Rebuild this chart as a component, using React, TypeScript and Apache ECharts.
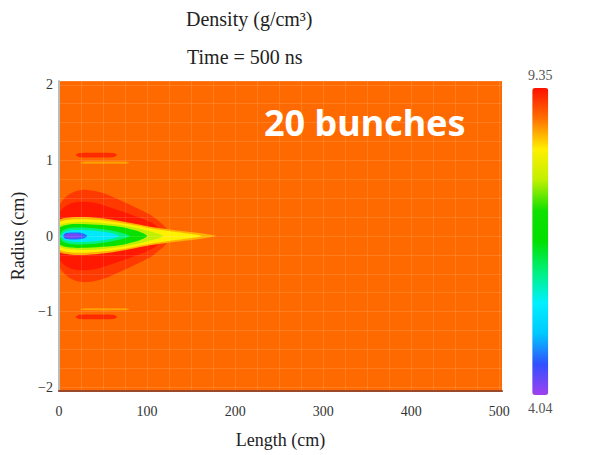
import React, { useEffect, useRef } from "react";
import * as echarts from "echarts";

const SERIF = '"Liberation Serif", "Times New Roman", serif';

// Axis ticks / ranges
const xTickValues = [0, 100, 200, 300, 400, 500];
const yTickValues = [-2, -1, 0, 1, 2];
const lengthMax = 503;
const radiusMax = 2.05;

// Colour scale
const densityMin = 4.04;
const densityMax = 9.35;
const densityColors = [
  "#a040f0", "#3050ff", "#00c8ff", "#00f0ff", "#00f080", "#00e000",
  "#10e000", "#c0f000", "#fff000", "#ff7000", "#ff1000",
];

// Ambient density filling the channel
const ambientDensity = 8.85;

// Plume contour levels (g/cm^3) and their upper half-width profile [length cm, radius cm]
const plumeLevels = [9.12, 9.3, 8.55, 8.29, 7.76, 6.96, 6.16, 5.53, 4.68, 4.25];
const plumeProfiles: number[][][] = [
  [[0, 0.38], [8, 0.52], [18, 0.59], [32, 0.61], [50, 0.57], [70, 0.47], [90, 0.36], [105, 0.27], [115, 0.18], [122, 0.1], [126, 0]],
  [[0, 0.28], [8, 0.4], [20, 0.45], [40, 0.44], [60, 0.37], [80, 0.29], [98, 0.21], [110, 0.14], [118, 0]],
  [[0, 0.2], [12, 0.245], [30, 0.25], [55, 0.225], [80, 0.175], [105, 0.12], [130, 0.08], [155, 0.045], [172, 0.015], [178, 0]],
  [[0, 0.17], [12, 0.215], [30, 0.22], [55, 0.2], [80, 0.155], [105, 0.1], [128, 0.06], [148, 0.03], [162, 0]],
  [[0, 0.13], [12, 0.175], [32, 0.185], [55, 0.165], [75, 0.135], [95, 0.085], [110, 0.04], [118, 0]],
  [[0, 0.1], [10, 0.15], [32, 0.155], [55, 0.14], [70, 0.12], [85, 0.08], [95, 0.04], [100, 0]],
  [[1, 0], [4, 0.07], [12, 0.105], [32, 0.11], [52, 0.085], [68, 0.05], [80, 0]],
  [[3, 0], [6, 0.05], [15, 0.075], [32, 0.075], [50, 0.055], [62, 0.03], [68, 0]],
  [[5, 0], [7, 0.035], [15, 0.045], [26, 0.04], [32, 0]],
  [[6, 0], [9, 0.025], [15, 0.032], [22, 0.028], [27, 0]],
];

// Bunch traces near r = ±1
const bunchLevels = [9.2, 8.62];
const bunchRadii = [1.07, 0.97];
const bunchStarts = [19, 24];
const bunchEnds = [66, 80];
const bunchHalfWidths = [0.028, 0.013];

type Shape = { level: number; pts: number[][]; smooth: number };

function buildShapes(): Shape[] {
  const shapes: Shape[] = [];
  shapes.push({
    level: ambientDensity,
    smooth: 0,
    pts: [[0, -radiusMax], [0, radiusMax], [lengthMax, radiusMax], [lengthMax, -radiusMax]],
  });
  plumeLevels.forEach((level, i) => {
    const upper = plumeProfiles[i];
    const lower = upper
      .slice()
      .reverse()
      .filter((p) => p[1] > 0)
      .map((p) => [p[0], -p[1]]);
    shapes.push({ level, smooth: 0.3, pts: [...upper, ...lower] });
  });
  bunchLevels.forEach((level, k) => {
    [1, -1].forEach((sign) => {
      const r = sign * bunchRadii[k];
      const h = bunchHalfWidths[k];
      const x0 = bunchStarts[k];
      const x1 = bunchEnds[k];
      shapes.push({
        level,
        smooth: 0.2,
        pts: [[x0, r], [x0 + 4, r + h], [x1 - 4, r + h], [x1, r], [x1 - 4, r - h], [x0 + 4, r - h]],
      });
    });
  });
  return shapes;
}

export default function App() {
  const ref = useRef<HTMLDivElement>(null);
  useEffect(() => {
    if (!ref.current) return;
    const chart = echarts.init(ref.current, null, { renderer: "svg" });
    const shapes = buildShapes();
    const minus = (v: number) => (v < 0 ? "\u2212" + Math.abs(v) : String(v));
    chart.setOption({
      animation: false,
      backgroundColor: "#ffffff",
      title: [
        {
          text: "Density (g/cm\u00b3)",
          left: 181,
          top: 4,
          textStyle: { fontFamily: SERIF, fontWeight: "normal", fontSize: 20, color: "#222" },
        },
        {
          text: "Time = 500 ns",
          left: 182,
          top: 42,
          textStyle: { fontFamily: SERIF, fontWeight: "normal", fontSize: 20, color: "#222" },
        },
      ],
      grid: { left: 59, right: 90, top: 81, bottom: 64, outerBoundsMode: "none" },
      xAxis: {
        type: "value",
        min: 0,
        max: lengthMax,
        interval: 25,
        z: 5,
        name: "Length (cm)",
        nameLocation: "middle",
        nameGap: 40,
        nameTextStyle: { fontFamily: SERIF, fontSize: 18, color: "#222" },
        axisLine: { show: true, onZero: false, lineStyle: { color: "#9a4a2a", width: 2 } },
        axisTick: { show: false },
        axisLabel: { customValues: xTickValues, fontFamily: SERIF, fontSize: 14, color: "#333", margin: 13 },
        splitLine: { show: true, lineStyle: { color: "rgba(255,255,255,0.12)", width: 1 } },
      },
      yAxis: {
        type: "value",
        min: -radiusMax,
        max: radiusMax,
        minInterval: 0.25,
        maxInterval: 0.25,
        z: 5,
        name: "Radius (cm)",
        nameLocation: "middle",
        nameGap: 17,
        nameRotate: 90,
        nameTextStyle: { fontFamily: SERIF, fontSize: 18, color: "#222" },
        axisLine: { show: true, onZero: false, lineStyle: { color: "#bbbbbb", width: 2 } },
        axisTick: { show: false },
        axisLabel: { customValues: yTickValues, formatter: minus, fontFamily: SERIF, fontSize: 14, color: "#333", margin: 6 },
        splitLine: { show: true, lineStyle: { color: "rgba(255,255,255,0.12)", width: 1 } },
      },
      visualMap: {
        type: "continuous",
        min: densityMin,
        max: densityMax,
        dimension: 2,
        seriesIndex: 0,
        calculable: false,
        hoverLink: false,
        inRange: { color: densityColors },
        text: ["9.35", "4.04"],
        textGap: 6,
        itemWidth: 16,
        itemHeight: 307,
        left: 513,
        top: 53,
        textStyle: { fontFamily: SERIF, fontSize: 14, color: "#555" },
      },
      graphic: [
        {
          type: "text",
          left: 264,
          top: 104,
          z: 100,
          style: {
            text: "20 bunches",
            fill: "#ffffff",
            font: 'bold 36px "Comic Sans MS", "Noto Sans", sans-serif',
          },
        },
      ],
      series: [
        {
          type: "custom",
          coordinateSystem: "cartesian2d",
          clip: true,
          silent: true,
          encode: { x: 0, y: 1 },
          data: shapes.map((s, i) => [i, 0, s.level]),
          renderItem: (params: any, api: any) => {
            const s = shapes[params.dataIndex];
            const points = s.pts.map((p) => api.coord(p));
            const f = (s.level - densityMin) / (densityMax - densityMin);
            const fill = api.visual("color") || echarts.color.lerp(f, densityColors);
            return {
              type: "polygon",
              shape: { points, smooth: s.smooth },
              style: { fill, stroke: null },
            };
          },
        },
      ],
    });
    return () => chart.dispose();
  }, []);
  return <div ref={ref} style={{ position: "absolute", left: 0, top: 0, width: 592, height: 455 }} />;
}
